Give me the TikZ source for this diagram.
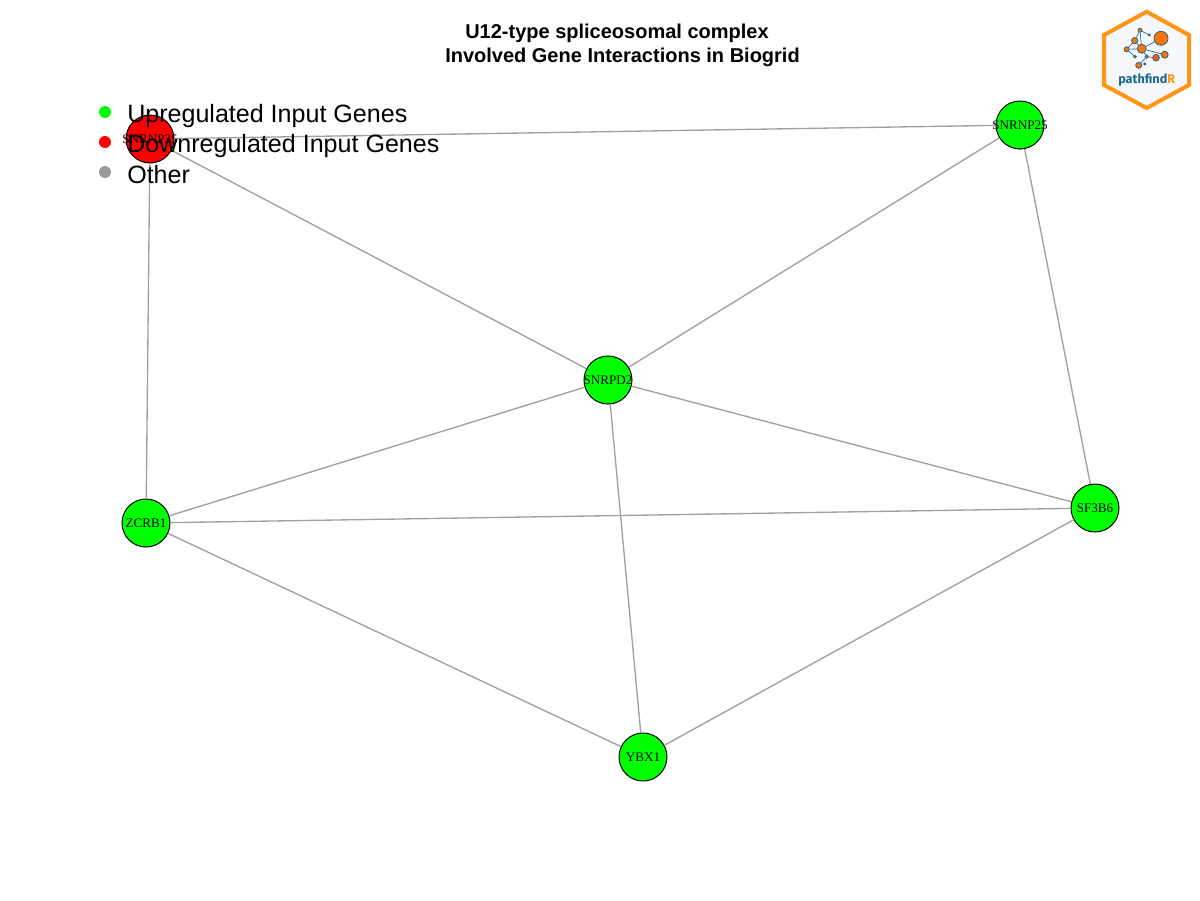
\documentclass[tikz,border=0pt]{standalone}
\usepackage{fontspec}
\setmainfont{Liberation Sans}
\newfontfamily\genefont{Liberation Serif}
\newfontfamily\logofont{Fira Sans}
\definecolor{edgegray}{HTML}{A0A0A0}
\definecolor{othergray}{HTML}{999999}
\definecolor{logoorange}{HTML}{FF9514}
\definecolor{logoblue}{HTML}{1A6A8E}
\definecolor{logored}{HTML}{F2581E}
\definecolor{logofill}{HTML}{F5F7FA}
\newcommand{\genetext}[1]{\makebox[0pt]{#1}}
\tikzset{
  gene/.style={circle, draw=black, line width=0.75pt, minimum size=36pt, inner sep=0pt,
    font=\genefont\fontsize{9.8}{10}\selectfont},
  edge/.style={draw=edgegray, line width=1pt},
  legdot/.style={circle, minimum size=9pt, inner sep=0pt},
  legtext/.style={anchor=west, inner sep=0pt, font=\fontsize{18.8}{20}\selectfont},
  titletext/.style={inner sep=0pt, font=\bfseries\fontsize{15}{16}\selectfont},
  logodot/.style={circle, draw=logoblue, line width=0.6pt, fill=orange!90!red, inner sep=0pt},
  logoedge/.style={draw=logoblue, line width=0.5pt}
}
\begin{document}
\begin{tikzpicture}[x=0.75pt, y=-0.75pt]
  \useasboundingbox[fill=white] (0,0) rectangle (1200,900);
  % Genes
  \node[gene, fill=red] (SNRNP35) at (150,139) {\genetext{SNRNP35}};
  \node[gene, fill=green] (SNRNP25) at (1020,125) {\genetext{SNRNP25}};
  \node[gene, fill=green] (SNRPD2) at (608,380) {\genetext{SNRPD2}};
  \node[gene, fill=green] (ZCRB1) at (146,523) {\genetext{ZCRB1}};
  \node[gene, fill=green] (SF3B6) at (1095,508) {\genetext{SF3B6}};
  \node[gene, fill=green] (YBX1) at (643,757) {\genetext{YBX1}};
  % Interactions
  \foreach \a/\b in {SNRNP35/SNRNP25, SNRNP35/SNRPD2, SNRNP35/ZCRB1, SNRNP25/SNRPD2,
    SNRNP25/SF3B6, SNRPD2/ZCRB1, SNRPD2/SF3B6, SNRPD2/YBX1, ZCRB1/SF3B6, ZCRB1/YBX1, SF3B6/YBX1}
    \draw[edge] (\a) -- (\b);
  % Title
  \node[titletext] (title1) at (617,33) {U12-type spliceosomal complex};
  \node[titletext] (title2) at (622.5,57) {Involved Gene Interactions in Biogrid};
  % Legend
  \node[legdot, fill=green] (updot) at (105,112) {};
  \node[legdot, fill=red] (downdot) at (105,142) {};
  \node[legdot, fill=othergray] (otherdot) at (105,172) {};
  \node[legtext] (uptext) at (127,116) {Upregulated Input Genes};
  \node[legtext] (downtext) at (127,146) {Downregulated Input Genes};
  \node[legtext] (othertext) at (127,175) {Other};
  % Logo
  \draw[draw=logoorange, fill=logofill, line width=3pt, line join=miter]
    (1146.7,11.7) -- (1189,35) -- (1189,85) -- (1146.7,108) -- (1104,85) -- (1104,35) -- cycle;
  \node[logodot, minimum size=10.5pt] (l1) at (1161,38.3) {};
  \node[logodot, minimum size=6.8pt] (l2) at (1141.7,48.7) {};
  \node[logodot, minimum size=4.8pt] (l3) at (1134.7,40.7) {};
  \node[logodot, minimum size=3pt] (l4) at (1140,30.3) {};
  \node[logodot, minimum size=1.6pt] (l5) at (1149.3,35) {};
  \node[logodot, minimum size=3.8pt] (l6) at (1126.7,49.3) {};
  \node[logodot, minimum size=2pt] (l7) at (1135,56.7) {};
  \node[logodot, minimum size=2.6pt] (l8) at (1146.7,56.7) {};
  \node[logodot, minimum size=5pt, fill=logored] (l9) at (1156,57.7) {};
  \node[logodot, minimum size=5.2pt] (l10) at (1164.7,54.7) {};
  \node[logodot, minimum size=4.5pt] (l11) at (1138.7,65.3) {};
  \node[logodot, minimum size=1.6pt, fill=logored] (l12) at (1144.7,64) {};
  \foreach \a/\b in {l1/l2, l2/l3, l3/l4, l4/l5, l2/l6, l6/l7, l2/l8, l8/l9, l2/l10, l8/l11, l2/l4, l3/l6}
    \draw[logoedge] (\a) -- (\b);
  \node[inner sep=0pt, font=\logofont\bfseries\fontsize{9.5}{10}\selectfont, text=logoblue] (logotext)
    at (1146.7,80.5) {pathfind\textcolor{logoorange}{R}};
\end{tikzpicture}
\end{document}
